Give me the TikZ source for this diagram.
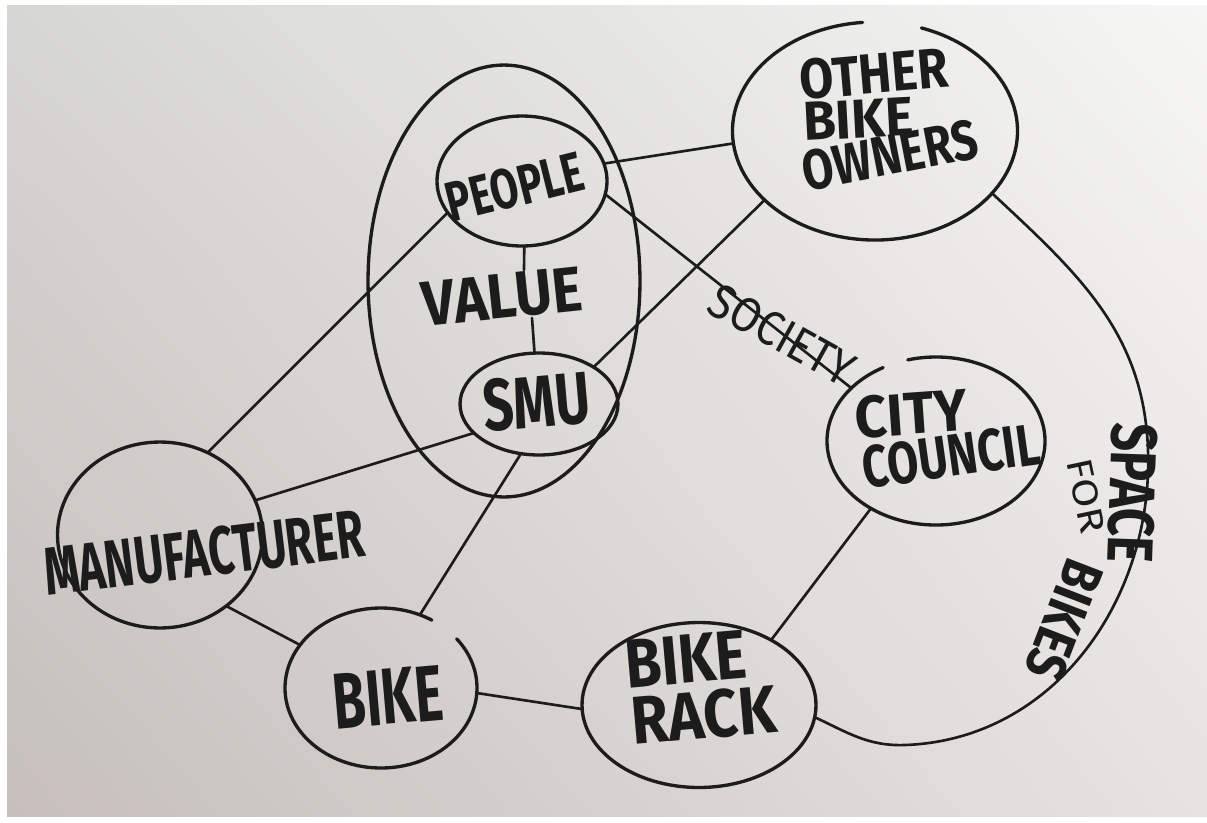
\documentclass[tikz,border=0pt]{standalone}
\usepackage{graphicx}
\usepackage{fontspec}
\setmainfont{Fira Sans}
\usetikzlibrary{shapes.geometric,shadings}
\newlength{\pxu}\setlength{\pxu}{0.02cm}
\newcommand{\hw}[3]{\resizebox{#1\pxu}{#2\pxu}{#3}}
\definecolor{ink}{HTML}{1C1C1C}
\definecolor{bgul}{RGB}{214,214,210}
\definecolor{bgur}{RGB}{246,246,244}
\definecolor{bgll}{RGB}{198,191,188}
\definecolor{bglr}{RGB}{230,227,225}
\tikzset{
  bubble/.style={ellipse, draw=ink, line width=1.9pt, inner sep=0pt, outer sep=0pt},
  openbubble/.style={ellipse, inner sep=0pt, outer sep=0pt},
  rim/.style={draw=ink, line width=1.9pt, line cap=round},
  wire/.style={draw=ink, line width=1.5pt, line cap=round},
  lbl/.style={inner sep=0pt, text=ink, font=\bfseries},
  thinlbl/.style={inner sep=0pt, text=ink, font=\mdseries},
}
\begin{document}
\begin{tikzpicture}[x=0.02cm,y=-0.02cm]
\useasboundingbox (0,0) rectangle (1207,822);
\fill[white] (0,0) rectangle (1207,822);
\shade[upper left=bgul, upper right=bgur, lower left=bgll, lower right=bglr]
  (7,5) rectangle (1207,816);

% bubbles
\node[bubble, minimum width=5.44cm, minimum height=8.64cm] (big) at (504,281) {};
\node[bubble, minimum width=3.4cm, minimum height=2.6cm] (people) at (522,181) {};
\node[bubble, minimum width=3.16cm, minimum height=2.04cm] (smu) at (539,404) {};
\node[openbubble, minimum width=5.7cm, minimum height=4.36cm] (obo) at (875,131) {};
\node[openbubble, minimum width=4.36cm, minimum height=3.36cm] (city) at (936,441) {};
\node[bubble, minimum width=4.1cm, minimum height=3.72cm] (manu) at (160,535) {};
\node[openbubble, minimum width=3.84cm, minimum height=3.2cm] (bike) at (381,688) {};
\node[bubble, minimum width=4.68cm, minimum height=3.3cm] (rack) at (699,705) {};

% hand-drawn rims with small gaps
\draw[rim] (obo.center) ++(289:142.5 and 109) arc[start angle=289, end angle=625, x radius=142.5, y radius=109];
\draw[rim] (city.center) ++(255:109 and 84) arc[start angle=255, end angle=601, x radius=109, y radius=84];
\draw[rim] (bike.center) ++(322:96 and 80) arc[start angle=322, end angle=662, x radius=96, y radius=80];

% labels
\node[lbl, rotate=14] (tpeople) at (515,187) {\hw{140}{40}{PEOPLE}};
\node[lbl, rotate=6] (value) at (502,297) {\hw{160}{44}{VALUE}};
\node[lbl, rotate=5] (tsmu) at (537,402) {\hw{107}{52}{SMU}};
\node[lbl, rotate=5] (tother) at (874,74) {\hw{148}{40}{OTHER}};
\node[lbl, rotate=3] (tbike1) at (858,119) {\hw{110}{38}{BIKE}};
\node[lbl, rotate=11] (towners) at (890,155) {\hw{177}{40}{OWNERS}};
\node[lbl, rotate=4] (tcity) at (911,414) {\hw{112}{42}{CITY}};
\node[lbl, rotate=8] (tcouncil) at (951,456) {\hw{178}{42}{COUNCIL}};
\node[lbl, rotate=7] (tmanu) at (204,553) {\hw{322}{48}{MANUFACTURER}};
\node[lbl, rotate=5] (tbike) at (388,697) {\hw{110}{55}{BIKE}};
\node[lbl, rotate=5] (trb) at (686,659) {\hw{122}{48}{BIKE}};
\node[lbl, rotate=5] (trr) at (704,715) {\hw{145}{48}{RACK}};
\node[thinlbl, rotate=-29] (society) at (782,335) {\hw{158}{34}{SOCIETY}};
\node[lbl, rotate=-92] (tspace) at (1132,493) {\hw{140}{46}{SPACE}};
\node[thinlbl, rotate=-78] (tfor) at (1086,496) {\hw{75}{25}{FOR}};
\node[lbl, rotate=-111] (tbikes) at (1064,620) {\hw{124}{40}{BIKES}};

% connectors
\coordinate (vt) at (524,270);
\coordinate (vb) at (532,318);
\draw[wire] (people.272) -- (vt);
\draw[wire] (vb) -- (smu.95);
\draw[wire] (people.12) -- (obo.185);
\draw[wire] (people.351) -- (city.148);
\draw[wire] (obo.212) -- (smu.34);
\draw[wire] (manu.60) -- (people.203);
\draw[wire] (manu.20) -- (smu.204);
\draw[wire] (manu.313) -- (bike.152);
\draw[wire] (smu.250) -- (bike.62);
\draw[wire] (bike.357) -- (rack.182);
\draw[wire] (city.226) -- (rack.42);

% space for bikes arc
\coordinate (arcR) at (1148,450);
\coordinate (arcB) at (905,745);
\draw[wire] (obo.332) to[out=-43,in=92] (arcR)
  to[out=-88,in=2] (arcB)
  to[out=182,in=-25] (rack.354);
\end{tikzpicture}
\end{document}
